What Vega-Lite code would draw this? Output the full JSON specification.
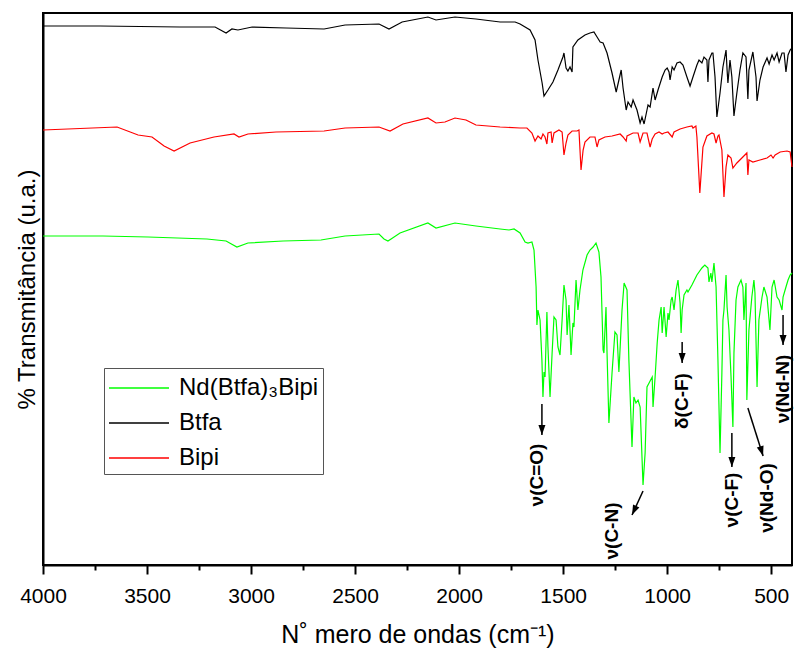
{
  "$schema": "https://vega.github.io/schema/vega-lite/v6.json",
  "width": 749,
  "height": 552,
  "autosize": {"type": "none"},
  "padding": {"left": 43, "top": 13, "right": 2, "bottom": 92},
  "background": "white",
  "config": {
    "view": {"stroke": "black", "strokeWidth": 2},
    "font": "Liberation Sans",
    "axis": {"grid": false}
  },
  "datasets": {
    "spectra": [
      {"s":"Btfa","w":4000,"v":539},{"s":"Btfa","w":3726,"v":539},{"s":"Btfa","w":3342,"v":538},{"s":"Btfa","w":3173,"v":538},{"s":"Btfa","w":3120,"v":532},{"s":"Btfa","w":3092,"v":536},{"s":"Btfa","w":3063,"v":535},{"s":"Btfa","w":2995,"v":538},{"s":"Btfa","w":2832,"v":537},{"s":"Btfa","w":2649,"v":536},{"s":"Btfa","w":2548,"v":540},{"s":"Btfa","w":2385,"v":541},{"s":"Btfa","w":2337,"v":536},{"s":"Btfa","w":2274,"v":543},{"s":"Btfa","w":2150,"v":548},{"s":"Btfa","w":2111,"v":545},{"s":"Btfa","w":2020,"v":548},{"s":"Btfa","w":1919,"v":546},{"s":"Btfa","w":1803,"v":543},{"s":"Btfa","w":1731,"v":543},{"s":"Btfa","w":1707,"v":541},{"s":"Btfa","w":1659,"v":535},{"s":"Btfa","w":1635,"v":525},{"s":"Btfa","w":1621,"v":505},{"s":"Btfa","w":1601,"v":482},{"s":"Btfa","w":1592,"v":469},{"s":"Btfa","w":1573,"v":475},{"s":"Btfa","w":1549,"v":483},{"s":"Btfa","w":1525,"v":495},{"s":"Btfa","w":1501,"v":508},{"s":"Btfa","w":1496,"v":512},{"s":"Btfa","w":1486,"v":497},{"s":"Btfa","w":1477,"v":494},{"s":"Btfa","w":1467,"v":498},{"s":"Btfa","w":1457,"v":493},{"s":"Btfa","w":1453,"v":518},{"s":"Btfa","w":1429,"v":525},{"s":"Btfa","w":1395,"v":530},{"s":"Btfa","w":1371,"v":532},{"s":"Btfa","w":1352,"v":533},{"s":"Btfa","w":1337,"v":528},{"s":"Btfa","w":1322,"v":523},{"s":"Btfa","w":1308,"v":522},{"s":"Btfa","w":1289,"v":512},{"s":"Btfa","w":1265,"v":492},{"s":"Btfa","w":1245,"v":473},{"s":"Btfa","w":1221,"v":495},{"s":"Btfa","w":1212,"v":477},{"s":"Btfa","w":1197,"v":455},{"s":"Btfa","w":1188,"v":463},{"s":"Btfa","w":1173,"v":458},{"s":"Btfa","w":1164,"v":465},{"s":"Btfa","w":1145,"v":455},{"s":"Btfa","w":1130,"v":442},{"s":"Btfa","w":1121,"v":448},{"s":"Btfa","w":1111,"v":441},{"s":"Btfa","w":1097,"v":455},{"s":"Btfa","w":1092,"v":460},{"s":"Btfa","w":1082,"v":458},{"s":"Btfa","w":1068,"v":477},{"s":"Btfa","w":1058,"v":465},{"s":"Btfa","w":1044,"v":475},{"s":"Btfa","w":1024,"v":488},{"s":"Btfa","w":1010,"v":495},{"s":"Btfa","w":1000,"v":497},{"s":"Btfa","w":991,"v":493},{"s":"Btfa","w":986,"v":485},{"s":"Btfa","w":976,"v":498},{"s":"Btfa","w":967,"v":495},{"s":"Btfa","w":953,"v":502},{"s":"Btfa","w":938,"v":503},{"s":"Btfa","w":924,"v":500},{"s":"Btfa","w":905,"v":488},{"s":"Btfa","w":890,"v":479},{"s":"Btfa","w":876,"v":488},{"s":"Btfa","w":857,"v":500},{"s":"Btfa","w":847,"v":505},{"s":"Btfa","w":833,"v":502},{"s":"Btfa","w":823,"v":508},{"s":"Btfa","w":809,"v":505},{"s":"Btfa","w":804,"v":483},{"s":"Btfa","w":799,"v":505},{"s":"Btfa","w":785,"v":512},{"s":"Btfa","w":780,"v":512},{"s":"Btfa","w":770,"v":488},{"s":"Btfa","w":761,"v":448},{"s":"Btfa","w":746,"v":472},{"s":"Btfa","w":732,"v":498},{"s":"Btfa","w":717,"v":515},{"s":"Btfa","w":712,"v":495},{"s":"Btfa","w":708,"v":482},{"s":"Btfa","w":698,"v":505},{"s":"Btfa","w":689,"v":488},{"s":"Btfa","w":679,"v":449},{"s":"Btfa","w":665,"v":472},{"s":"Btfa","w":650,"v":495},{"s":"Btfa","w":636,"v":512},{"s":"Btfa","w":621,"v":508},{"s":"Btfa","w":612,"v":466},{"s":"Btfa","w":607,"v":495},{"s":"Btfa","w":588,"v":513},{"s":"Btfa","w":573,"v":488},{"s":"Btfa","w":568,"v":464},{"s":"Btfa","w":554,"v":485},{"s":"Btfa","w":539,"v":498},{"s":"Btfa","w":520,"v":507},{"s":"Btfa","w":510,"v":501},{"s":"Btfa","w":496,"v":510},{"s":"Btfa","w":486,"v":505},{"s":"Btfa","w":472,"v":512},{"s":"Btfa","w":462,"v":503},{"s":"Btfa","w":448,"v":512},{"s":"Btfa","w":438,"v":512},{"s":"Btfa","w":429,"v":493},{"s":"Btfa","w":419,"v":510},{"s":"Btfa","w":409,"v":515},{"s":"Btfa","w":400,"v":517},

      {"s":"Bipi","w":4000,"v":435},{"s":"Bipi","w":3644,"v":438},{"s":"Bipi","w":3543,"v":430},{"s":"Bipi","w":3476,"v":428},{"s":"Bipi","w":3418,"v":419},{"s":"Bipi","w":3370,"v":414},{"s":"Bipi","w":3293,"v":422},{"s":"Bipi","w":3178,"v":428},{"s":"Bipi","w":3082,"v":431},{"s":"Bipi","w":3058,"v":428},{"s":"Bipi","w":3015,"v":431},{"s":"Bipi","w":2880,"v":433},{"s":"Bipi","w":2649,"v":434},{"s":"Bipi","w":2548,"v":437},{"s":"Bipi","w":2385,"v":438},{"s":"Bipi","w":2332,"v":434},{"s":"Bipi","w":2270,"v":441},{"s":"Bipi","w":2150,"v":447},{"s":"Bipi","w":2111,"v":442},{"s":"Bipi","w":2068,"v":443},{"s":"Bipi","w":2020,"v":447},{"s":"Bipi","w":1967,"v":445},{"s":"Bipi","w":1919,"v":440},{"s":"Bipi","w":1803,"v":438},{"s":"Bipi","w":1707,"v":437},{"s":"Bipi","w":1674,"v":437},{"s":"Bipi","w":1650,"v":432},{"s":"Bipi","w":1635,"v":424},{"s":"Bipi","w":1621,"v":429},{"s":"Bipi","w":1606,"v":426},{"s":"Bipi","w":1597,"v":431},{"s":"Bipi","w":1587,"v":428},{"s":"Bipi","w":1578,"v":421},{"s":"Bipi","w":1573,"v":432},{"s":"Bipi","w":1558,"v":433},{"s":"Bipi","w":1553,"v":422},{"s":"Bipi","w":1544,"v":432},{"s":"Bipi","w":1520,"v":435},{"s":"Bipi","w":1505,"v":433},{"s":"Bipi","w":1496,"v":410},{"s":"Bipi","w":1486,"v":422},{"s":"Bipi","w":1477,"v":430},{"s":"Bipi","w":1457,"v":434},{"s":"Bipi","w":1433,"v":434},{"s":"Bipi","w":1424,"v":435},{"s":"Bipi","w":1414,"v":395},{"s":"Bipi","w":1404,"v":415},{"s":"Bipi","w":1395,"v":423},{"s":"Bipi","w":1371,"v":428},{"s":"Bipi","w":1347,"v":428},{"s":"Bipi","w":1337,"v":418},{"s":"Bipi","w":1328,"v":425},{"s":"Bipi","w":1299,"v":428},{"s":"Bipi","w":1265,"v":429},{"s":"Bipi","w":1226,"v":431},{"s":"Bipi","w":1212,"v":428},{"s":"Bipi","w":1197,"v":424},{"s":"Bipi","w":1193,"v":429},{"s":"Bipi","w":1164,"v":432},{"s":"Bipi","w":1140,"v":432},{"s":"Bipi","w":1130,"v":423},{"s":"Bipi","w":1116,"v":432},{"s":"Bipi","w":1097,"v":432},{"s":"Bipi","w":1082,"v":418},{"s":"Bipi","w":1072,"v":426},{"s":"Bipi","w":1058,"v":431},{"s":"Bipi","w":1039,"v":433},{"s":"Bipi","w":1024,"v":431},{"s":"Bipi","w":1015,"v":432},{"s":"Bipi","w":996,"v":433},{"s":"Bipi","w":976,"v":428},{"s":"Bipi","w":967,"v":433},{"s":"Bipi","w":938,"v":436},{"s":"Bipi","w":905,"v":438},{"s":"Bipi","w":881,"v":439},{"s":"Bipi","w":876,"v":437},{"s":"Bipi","w":862,"v":439},{"s":"Bipi","w":857,"v":428},{"s":"Bipi","w":843,"v":372},{"s":"Bipi","w":828,"v":418},{"s":"Bipi","w":809,"v":429},{"s":"Bipi","w":785,"v":432},{"s":"Bipi","w":775,"v":431},{"s":"Bipi","w":765,"v":422},{"s":"Bipi","w":756,"v":429},{"s":"Bipi","w":751,"v":430},{"s":"Bipi","w":737,"v":415},{"s":"Bipi","w":727,"v":368},{"s":"Bipi","w":717,"v":398},{"s":"Bipi","w":708,"v":410},{"s":"Bipi","w":693,"v":407},{"s":"Bipi","w":684,"v":397},{"s":"Bipi","w":665,"v":402},{"s":"Bipi","w":641,"v":407},{"s":"Bipi","w":617,"v":412},{"s":"Bipi","w":612,"v":390},{"s":"Bipi","w":607,"v":405},{"s":"Bipi","w":588,"v":403},{"s":"Bipi","w":554,"v":405},{"s":"Bipi","w":520,"v":407},{"s":"Bipi","w":501,"v":410},{"s":"Bipi","w":491,"v":407},{"s":"Bipi","w":481,"v":410},{"s":"Bipi","w":457,"v":413},{"s":"Bipi","w":424,"v":414},{"s":"Bipi","w":409,"v":413},{"s":"Bipi","w":400,"v":398},

      {"s":"Nd(Btfa)₃Bipi","w":4000,"v":329},{"s":"Nd(Btfa)₃Bipi","w":3712,"v":329},{"s":"Nd(Btfa)₃Bipi","w":3495,"v":328},{"s":"Nd(Btfa)₃Bipi","w":3212,"v":326},{"s":"Nd(Btfa)₃Bipi","w":3120,"v":324},{"s":"Nd(Btfa)₃Bipi","w":3068,"v":318},{"s":"Nd(Btfa)₃Bipi","w":3015,"v":322},{"s":"Nd(Btfa)₃Bipi","w":2846,"v":324},{"s":"Nd(Btfa)₃Bipi","w":2664,"v":325},{"s":"Nd(Btfa)₃Bipi","w":2548,"v":329},{"s":"Nd(Btfa)₃Bipi","w":2385,"v":331},{"s":"Nd(Btfa)₃Bipi","w":2361,"v":326},{"s":"Nd(Btfa)₃Bipi","w":2342,"v":324},{"s":"Nd(Btfa)₃Bipi","w":2327,"v":326},{"s":"Nd(Btfa)₃Bipi","w":2284,"v":332},{"s":"Nd(Btfa)₃Bipi","w":2150,"v":342},{"s":"Nd(Btfa)₃Bipi","w":2111,"v":337},{"s":"Nd(Btfa)₃Bipi","w":2020,"v":342},{"s":"Nd(Btfa)₃Bipi","w":1919,"v":339},{"s":"Nd(Btfa)₃Bipi","w":1803,"v":336},{"s":"Nd(Btfa)₃Bipi","w":1760,"v":335},{"s":"Nd(Btfa)₃Bipi","w":1736,"v":336},{"s":"Nd(Btfa)₃Bipi","w":1707,"v":332},{"s":"Nd(Btfa)₃Bipi","w":1683,"v":323},{"s":"Nd(Btfa)₃Bipi","w":1669,"v":322},{"s":"Nd(Btfa)₃Bipi","w":1650,"v":323},{"s":"Nd(Btfa)₃Bipi","w":1640,"v":315},{"s":"Nd(Btfa)₃Bipi","w":1630,"v":278},{"s":"Nd(Btfa)₃Bipi","w":1626,"v":240},{"s":"Nd(Btfa)₃Bipi","w":1621,"v":255},{"s":"Nd(Btfa)₃Bipi","w":1611,"v":245},{"s":"Nd(Btfa)₃Bipi","w":1602,"v":205},{"s":"Nd(Btfa)₃Bipi","w":1597,"v":168},{"s":"Nd(Btfa)₃Bipi","w":1592,"v":193},{"s":"Nd(Btfa)₃Bipi","w":1587,"v":188},{"s":"Nd(Btfa)₃Bipi","w":1578,"v":253},{"s":"Nd(Btfa)₃Bipi","w":1573,"v":218},{"s":"Nd(Btfa)₃Bipi","w":1563,"v":168},{"s":"Nd(Btfa)₃Bipi","w":1553,"v":212},{"s":"Nd(Btfa)₃Bipi","w":1544,"v":248},{"s":"Nd(Btfa)₃Bipi","w":1534,"v":245},{"s":"Nd(Btfa)₃Bipi","w":1525,"v":218},{"s":"Nd(Btfa)₃Bipi","w":1515,"v":210},{"s":"Nd(Btfa)₃Bipi","w":1505,"v":245},{"s":"Nd(Btfa)₃Bipi","w":1496,"v":280},{"s":"Nd(Btfa)₃Bipi","w":1486,"v":265},{"s":"Nd(Btfa)₃Bipi","w":1481,"v":230},{"s":"Nd(Btfa)₃Bipi","w":1472,"v":260},{"s":"Nd(Btfa)₃Bipi","w":1462,"v":210},{"s":"Nd(Btfa)₃Bipi","w":1453,"v":242},{"s":"Nd(Btfa)₃Bipi","w":1448,"v":238},{"s":"Nd(Btfa)₃Bipi","w":1438,"v":285},{"s":"Nd(Btfa)₃Bipi","w":1429,"v":255},{"s":"Nd(Btfa)₃Bipi","w":1419,"v":275},{"s":"Nd(Btfa)₃Bipi","w":1405,"v":295},{"s":"Nd(Btfa)₃Bipi","w":1385,"v":310},{"s":"Nd(Btfa)₃Bipi","w":1371,"v":315},{"s":"Nd(Btfa)₃Bipi","w":1356,"v":318},{"s":"Nd(Btfa)₃Bipi","w":1342,"v":322},{"s":"Nd(Btfa)₃Bipi","w":1328,"v":313},{"s":"Nd(Btfa)₃Bipi","w":1318,"v":288},{"s":"Nd(Btfa)₃Bipi","w":1308,"v":215},{"s":"Nd(Btfa)₃Bipi","w":1304,"v":212},{"s":"Nd(Btfa)₃Bipi","w":1294,"v":258},{"s":"Nd(Btfa)₃Bipi","w":1289,"v":212},{"s":"Nd(Btfa)₃Bipi","w":1280,"v":142},{"s":"Nd(Btfa)₃Bipi","w":1265,"v":192},{"s":"Nd(Btfa)₃Bipi","w":1251,"v":233},{"s":"Nd(Btfa)₃Bipi","w":1241,"v":230},{"s":"Nd(Btfa)₃Bipi","w":1232,"v":193},{"s":"Nd(Btfa)₃Bipi","w":1217,"v":255},{"s":"Nd(Btfa)₃Bipi","w":1207,"v":282},{"s":"Nd(Btfa)₃Bipi","w":1193,"v":275},{"s":"Nd(Btfa)₃Bipi","w":1184,"v":205},{"s":"Nd(Btfa)₃Bipi","w":1169,"v":118},{"s":"Nd(Btfa)₃Bipi","w":1160,"v":168},{"s":"Nd(Btfa)₃Bipi","w":1150,"v":162},{"s":"Nd(Btfa)₃Bipi","w":1140,"v":165},{"s":"Nd(Btfa)₃Bipi","w":1130,"v":158},{"s":"Nd(Btfa)₃Bipi","w":1116,"v":80},{"s":"Nd(Btfa)₃Bipi","w":1106,"v":112},{"s":"Nd(Btfa)₃Bipi","w":1097,"v":178},{"s":"Nd(Btfa)₃Bipi","w":1087,"v":182},{"s":"Nd(Btfa)₃Bipi","w":1072,"v":188},{"s":"Nd(Btfa)₃Bipi","w":1068,"v":158},{"s":"Nd(Btfa)₃Bipi","w":1058,"v":188},{"s":"Nd(Btfa)₃Bipi","w":1048,"v":222},{"s":"Nd(Btfa)₃Bipi","w":1039,"v":245},{"s":"Nd(Btfa)₃Bipi","w":1029,"v":258},{"s":"Nd(Btfa)₃Bipi","w":1024,"v":232},{"s":"Nd(Btfa)₃Bipi","w":1015,"v":258},{"s":"Nd(Btfa)₃Bipi","w":1005,"v":228},{"s":"Nd(Btfa)₃Bipi","w":996,"v":252},{"s":"Nd(Btfa)₃Bipi","w":991,"v":245},{"s":"Nd(Btfa)₃Bipi","w":981,"v":265},{"s":"Nd(Btfa)₃Bipi","w":976,"v":268},{"s":"Nd(Btfa)₃Bipi","w":967,"v":255},{"s":"Nd(Btfa)₃Bipi","w":957,"v":275},{"s":"Nd(Btfa)₃Bipi","w":948,"v":285},{"s":"Nd(Btfa)₃Bipi","w":938,"v":262},{"s":"Nd(Btfa)₃Bipi","w":933,"v":232},{"s":"Nd(Btfa)₃Bipi","w":928,"v":255},{"s":"Nd(Btfa)₃Bipi","w":919,"v":270},{"s":"Nd(Btfa)₃Bipi","w":905,"v":275},{"s":"Nd(Btfa)₃Bipi","w":900,"v":273},{"s":"Nd(Btfa)₃Bipi","w":881,"v":280},{"s":"Nd(Btfa)₃Bipi","w":857,"v":290},{"s":"Nd(Btfa)₃Bipi","w":833,"v":297},{"s":"Nd(Btfa)₃Bipi","w":819,"v":300},{"s":"Nd(Btfa)₃Bipi","w":804,"v":297},{"s":"Nd(Btfa)₃Bipi","w":799,"v":283},{"s":"Nd(Btfa)₃Bipi","w":790,"v":292},{"s":"Nd(Btfa)₃Bipi","w":785,"v":283},{"s":"Nd(Btfa)₃Bipi","w":775,"v":302},{"s":"Nd(Btfa)₃Bipi","w":765,"v":278},{"s":"Nd(Btfa)₃Bipi","w":756,"v":205},{"s":"Nd(Btfa)₃Bipi","w":746,"v":112},{"s":"Nd(Btfa)₃Bipi","w":737,"v":192},{"s":"Nd(Btfa)₃Bipi","w":732,"v":245},{"s":"Nd(Btfa)₃Bipi","w":727,"v":255},{"s":"Nd(Btfa)₃Bipi","w":717,"v":290},{"s":"Nd(Btfa)₃Bipi","w":712,"v":258},{"s":"Nd(Btfa)₃Bipi","w":703,"v":235},{"s":"Nd(Btfa)₃Bipi","w":693,"v":188},{"s":"Nd(Btfa)₃Bipi","w":684,"v":138},{"s":"Nd(Btfa)₃Bipi","w":679,"v":212},{"s":"Nd(Btfa)₃Bipi","w":669,"v":265},{"s":"Nd(Btfa)₃Bipi","w":660,"v":278},{"s":"Nd(Btfa)₃Bipi","w":645,"v":285},{"s":"Nd(Btfa)₃Bipi","w":636,"v":278},{"s":"Nd(Btfa)₃Bipi","w":631,"v":245},{"s":"Nd(Btfa)₃Bipi","w":621,"v":282},{"s":"Nd(Btfa)₃Bipi","w":617,"v":165},{"s":"Nd(Btfa)₃Bipi","w":607,"v":235},{"s":"Nd(Btfa)₃Bipi","w":593,"v":268},{"s":"Nd(Btfa)₃Bipi","w":583,"v":285},{"s":"Nd(Btfa)₃Bipi","w":578,"v":272},{"s":"Nd(Btfa)₃Bipi","w":568,"v":178},{"s":"Nd(Btfa)₃Bipi","w":559,"v":245},{"s":"Nd(Btfa)₃Bipi","w":544,"v":268},{"s":"Nd(Btfa)₃Bipi","w":535,"v":278},{"s":"Nd(Btfa)₃Bipi","w":520,"v":268},{"s":"Nd(Btfa)₃Bipi","w":506,"v":235},{"s":"Nd(Btfa)₃Bipi","w":496,"v":278},{"s":"Nd(Btfa)₃Bipi","w":486,"v":285},{"s":"Nd(Btfa)₃Bipi","w":472,"v":268},{"s":"Nd(Btfa)₃Bipi","w":462,"v":265},{"s":"Nd(Btfa)₃Bipi","w":448,"v":255},{"s":"Nd(Btfa)₃Bipi","w":443,"v":268},{"s":"Nd(Btfa)₃Bipi","w":429,"v":278},{"s":"Nd(Btfa)₃Bipi","w":419,"v":285},{"s":"Nd(Btfa)₃Bipi","w":409,"v":290},{"s":"Nd(Btfa)₃Bipi","w":400,"v":292}
    ],
    "notes": [
      {"id":"CO","label":"ν(C=O)","tx":1626,"ty":90,"ax":1602,"ay":161,"bx":1602,"by":130},
      {"id":"CN","label":"ν(C-N)","tx":1265,"ty":34,"ax":1116,"ay":74,"bx":1169,"by":50},
      {"id":"dCF","label":"δ(C-F)","tx":928,"ty":164,"ax":928,"ay":223,"bx":928,"by":202},
      {"id":"CF","label":"ν(C-F)","tx":689,"ty":65,"ax":689,"ay":132,"bx":689,"by":98},
      {"id":"NdO","label":"ν(Nd-O)","tx":520,"ty":67,"ax":612,"ay":157,"bx":539,"by":109},
      {"id":"NdN","label":"ν(Nd-N)","tx":443,"ty":176,"ax":443,"ay":250,"bx":443,"by":220}
    ]
  },
  "layer": [
    {
      "data": {"name": "spectra"},
      "mark": {"type": "line", "strokeWidth": 1.2},
      "encoding": {
        "x": {
          "field": "w", "type": "quantitative",
          "scale": {"domain": [400, 4000], "reverse": true, "nice": false, "zero": false},
          "axis": {
            "title": "N˚ mero de ondas (cm⁻¹)",
            "values": [4000, 3750, 3500, 3250, 3000, 2750, 2500, 2250, 2000, 1750, 1500, 1250, 1000, 750, 500],
            "format": "d",
            "labelExpr": "datum.value % 500 === 0 ? datum.label : ''",
            "tickSize": {"condition": {"test": "datum.value % 500 === 0", "value": 9}, "value": 5},
            "tickWidth": 2, "tickColor": "black",
            "domainColor": "black", "domainWidth": 2,
            "labelFontSize": 21, "labelColor": "black", "labelPadding": 11, "labelFlush": false, "labelOverlap": false,
            "titleFontSize": 25, "titleFontWeight": "normal", "titleColor": "black", "titlePadding": 16
          }
        },
        "y": {
          "field": "v", "type": "quantitative",
          "scale": {"domain": [0, 552], "nice": false, "zero": false},
          "axis": {
            "title": "% Transmitância (u.a.)",
            "ticks": false, "labels": false,
            "domainColor": "black", "domainWidth": 2,
            "titleFontSize": 24, "titleFontWeight": "normal", "titleColor": "black", "titlePadding": 4
          }
        },
        "color": {
          "field": "s", "type": "nominal",
          "scale": {"domain": ["Nd(Btfa)₃Bipi", "Btfa", "Bipi"], "range": ["#00ff00", "#000000", "#ff0000"]},
          "legend": {
            "title": null, "orient": "none", "legendX": 61, "legendY": 355,
            "symbolType": "M-1,0H3", "symbolSize": 900, "symbolStrokeWidth": 1.5, "symbolFillColor": "transparent",
            "labelFontSize": 24, "labelColor": "black", "labelFont": "Liberation Sans", "labelLimit": 300,
            "strokeColor": "#555555", "fillColor": "white", "padding": 4, "rowPadding": 7, "labelOffset": 39
          }
        }
      }
    },
    {
      "data": {"name": "notes"},
      "mark": {"type": "rule", "strokeWidth": 1.5, "color": "black"},
      "encoding": {
        "x": {"field": "ax", "type": "quantitative", "title": "N˚ mero de ondas (cm⁻¹)"},
        "y": {"field": "ay", "type": "quantitative", "title": "% Transmitância (u.a.)"},
        "x2": {"field": "bx"},
        "y2": {"field": "by"}
      }
    },
    {
      "data": {"name": "notes"},
      "mark": {"type": "point", "shape": "M0,0L-0.35,-1L0.35,-1Z", "filled": true, "color": "black", "opacity": 1, "size": 400},
      "encoding": {
        "x": {"field": "bx", "type": "quantitative", "title": "N˚ mero de ondas (cm⁻¹)"},
        "y": {"field": "by", "type": "quantitative", "title": "% Transmitância (u.a.)"},
        "angle": {"condition": [{"test": "datum.id === 'CN'", "value": 25}, {"test": "datum.id === 'NdO'", "value": 343}], "value": 0}
      }
    },
    {
      "data": {"name": "notes"},
      "mark": {"type": "text", "angle": 270, "fontSize": 19, "fontWeight": "bold", "font": "Liberation Sans", "align": "center", "baseline": "middle", "color": "black"},
      "encoding": {
        "x": {"field": "tx", "type": "quantitative", "title": "N˚ mero de ondas (cm⁻¹)"},
        "y": {"field": "ty", "type": "quantitative", "title": "% Transmitância (u.a.)"},
        "text": {"field": "label"}
      }
    }
  ]
}
